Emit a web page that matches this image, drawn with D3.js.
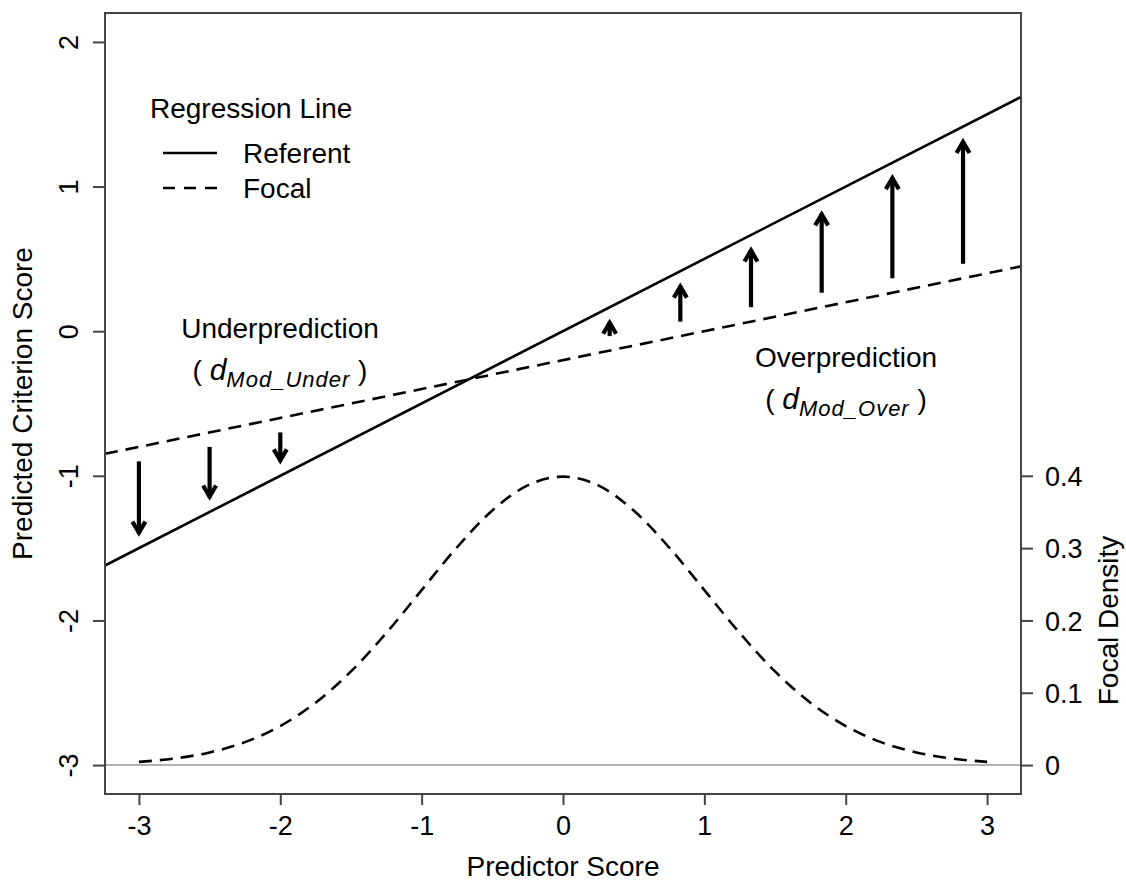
<!DOCTYPE html>
<html>
<head>
<meta charset="utf-8">
<script src="https://cdn.jsdelivr.net/npm/d3@7"></script>
<style>
  body { margin: 0; background: #fff; }
  svg text { font-family: "Liberation Sans", Arial, sans-serif; fill: #000; }
</style>
</head>
<body>
<svg id="chart" width="1126" height="883"></svg>
<script>
// regression lines (intercept, slope)
var referentLine = [0, 0.5];
var focalLine = [-0.2, 0.2];

// predictor scores where the arrows sit
var underX = [-3, -2.5, -2];
var overX = [0.33, 0.83, 1.33, 1.83, 2.33, 2.83];

// focal density curve
var densX = [-3, -2.75, -2.5, -2.25, -2, -1.75, -1.5, -1.25, -1, -0.75, -0.5, -0.25, 0,
             0.25, 0.5, 0.75, 1, 1.25, 1.5, 1.75, 2, 2.25, 2.5, 2.75, 3];
var densY = [0.0044, 0.0091, 0.0175, 0.0317, 0.054, 0.0863, 0.1295, 0.1826, 0.242, 0.3011, 0.3521, 0.3867, 0.3989,
             0.3867, 0.3521, 0.3011, 0.242, 0.1826, 0.1295, 0.0863, 0.054, 0.0317, 0.0175, 0.0091, 0.0044];

var xTicks = [-3, -2, -1, 0, 1, 2, 3];
var yTicks = [-3, -2, -1, 0, 1, 2];
var densTicks = [0, 0.1, 0.2, 0.3, 0.4];

var svg = d3.select("#chart");
var L = 105, R = 1021, T = 13, B = 794;

var x = d3.scaleLinear().domain([-3.24, 3.24]).range([L, R]);
var y = d3.scaleLinear().domain([-3.2, 2.2]).range([B, T]);
// density drawn on the same panel: 0 -> -3, 0.4 -> -1
var yd = d3.scaleLinear().domain([-0.04, 1.04]).range([B, T]);

var axisCol = "#444";
var fs = "27px";
var plain = function(d) { return String(d); };

// baseline for density
svg.append("line")
  .attr("x1", L).attr("x2", R)
  .attr("y1", yd(0)).attr("y2", yd(0))
  .attr("stroke", "#999").attr("stroke-width", 1.5);

// regression lines
function lineAt(p, v) { return p[0] + p[1] * v; }
svg.append("line")
  .attr("x1", x(-3.24)).attr("y1", y(lineAt(referentLine, -3.24)))
  .attr("x2", x(3.24)).attr("y2", y(lineAt(referentLine, 3.24)))
  .attr("stroke", "#000").attr("stroke-width", 2.6);
svg.append("line")
  .attr("x1", x(-3.24)).attr("y1", y(lineAt(focalLine, -3.24)))
  .attr("x2", x(3.24)).attr("y2", y(lineAt(focalLine, 3.24)))
  .attr("stroke", "#000").attr("stroke-width", 2.6)
  .attr("stroke-dasharray", "13,8");

// density curve
var dens = densX.map(function(v, i) { return [v, densY[i]]; });
svg.append("path")
  .datum(dens)
  .attr("fill", "none")
  .attr("stroke", "#000").attr("stroke-width", 2.6)
  .attr("stroke-dasharray", "13,8")
  .attr("d", d3.line().curve(d3.curveMonotoneX)
    .x(function(d) { return x(d[0]); })
    .y(function(d) { return y(-3 + 5 * d[1]); }));

// arrows from focal to referent, inset 0.1 at each end
function arrow(v, dir) {
  var f = lineAt(focalLine, v), r = lineAt(referentLine, v);
  var y1 = y(f + dir * 0.1), y2 = y(r - dir * 0.1);
  var px = x(v);
  var g = svg.append("g").attr("stroke", "#000").attr("stroke-width", 4.2)
    .attr("fill", "none").attr("stroke-linecap", "butt");
  g.append("line").attr("x1", px).attr("x2", px).attr("y1", y1).attr("y2", y2);
  var s = y2 < y1 ? 1 : -1;
  g.append("path")
    .attr("stroke-linejoin", "miter")
    .attr("d", "M" + (px - 6.5) + "," + (y2 + s * 12) + "L" + px + "," + (y2 + s * 1) + "L" + (px + 6.5) + "," + (y2 + s * 12));
}
underX.forEach(function(v) { arrow(v, -1); });
overX.forEach(function(v) { arrow(v, 1); });

// box
svg.append("rect")
  .attr("x", L).attr("y", T).attr("width", R - L).attr("height", B - T)
  .attr("fill", "none").attr("stroke", axisCol).attr("stroke-width", 2);

// bottom axis
var gx = svg.append("g").attr("transform", "translate(0," + B + ")")
  .call(d3.axisBottom(x).tickValues(xTicks).tickSize(11).tickPadding(10).tickFormat(plain));
gx.select(".domain").remove();
gx.selectAll("line").attr("stroke", axisCol).attr("stroke-width", 2);
gx.selectAll("text").attr("font-size", fs).attr("dy", null).attr("y", 41);

// left axis, labels parallel to axis
var gy = svg.append("g").attr("transform", "translate(" + L + ",0)")
  .call(d3.axisLeft(y).tickValues(yTicks).tickSize(12).tickFormat(plain));
gy.select(".domain").remove();
gy.selectAll("line").attr("stroke", axisCol).attr("stroke-width", 2);
gy.selectAll("text").attr("font-size", fs)
  .attr("x", null).attr("dy", null)
  .attr("text-anchor", "middle")
  .attr("transform", "translate(-27,0) rotate(-90)");

// right axis
var gr = svg.append("g").attr("transform", "translate(" + R + ",0)")
  .call(d3.axisRight(yd).tickValues(densTicks).tickSize(12).tickPadding(12).tickFormat(function(d) { return d === 0 ? "0" : d3.format(".1f")(d); }));
gr.select(".domain").remove();
gr.selectAll("line").attr("stroke", axisCol).attr("stroke-width", 2);
gr.selectAll("text").attr("font-size", fs).attr("dy", "0.36em");

// axis titles
svg.append("text").attr("x", (L + R) / 2).attr("y", 876)
  .attr("text-anchor", "middle").attr("font-size", "28px").text("Predictor Score");
svg.append("text").attr("transform", "translate(32," + ((T + B) / 2) + ") rotate(-90)")
  .attr("text-anchor", "middle").attr("font-size", "28px").text("Predicted Criterion Score");
svg.append("text").attr("transform", "translate(1118," + yd(0.2) + ") rotate(-90)")
  .attr("text-anchor", "middle").attr("font-size", "28px").text("Focal Density");

// legend
svg.append("text").attr("x", 150).attr("y", 118).attr("font-size", "28px").text("Regression Line");
svg.append("line").attr("x1", 163).attr("x2", 217).attr("y1", 153).attr("y2", 153)
  .attr("stroke", "#000").attr("stroke-width", 2.6);
svg.append("line").attr("x1", 163).attr("x2", 217).attr("y1", 188).attr("y2", 188)
  .attr("stroke", "#000").attr("stroke-width", 2.6).attr("stroke-dasharray", "12,9");
svg.append("text").attr("x", 243).attr("y", 163).attr("font-size", "28px").text("Referent");
svg.append("text").attr("x", 243).attr("y", 198).attr("font-size", "28px").text("Focal");

// region annotations
function annot(cx, by, title, sub) {
  svg.append("text").attr("x", cx).attr("y", by).attr("text-anchor", "middle")
    .attr("font-size", "28px").text(title);
  var t = svg.append("text").attr("x", cx).attr("y", by + 42).attr("text-anchor", "middle")
    .attr("font-size", "28px");
  t.append("tspan").text("( ");
  t.append("tspan").attr("font-style", "italic").attr("font-size", "30px").text("d");
  t.append("tspan").attr("font-style", "italic").attr("font-size", "22px")
    .attr("letter-spacing", "1px").attr("dy", 7).text(sub);
  t.append("tspan").attr("dy", -7).text(" )");
}
annot(280, 338, "Underprediction", "Mod_Under");
annot(846, 367, "Overprediction", "Mod_Over");
</script>
</body>
</html>
